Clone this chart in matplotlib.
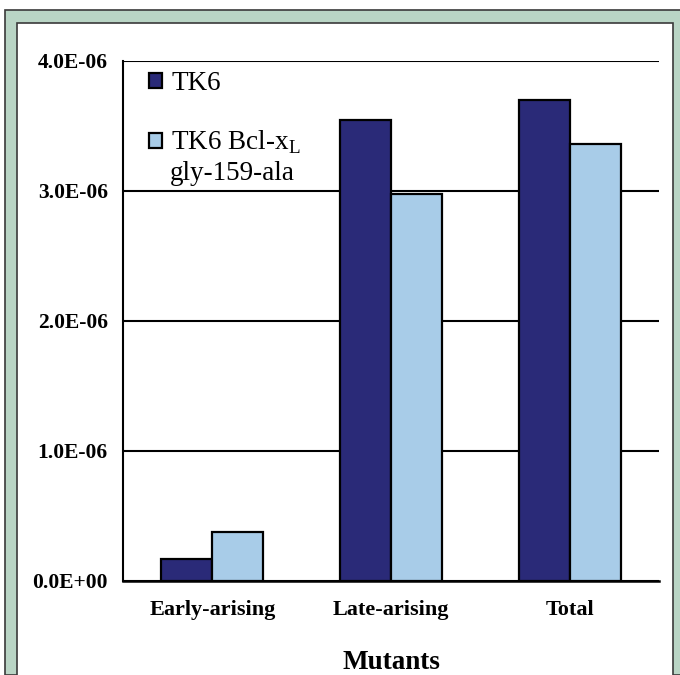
import numpy as np
import matplotlib.pyplot as plt
from matplotlib.patches import Rectangle

categories = ["Early-arising", "Late-arising", "Total"]
tk6 = [0.17e-6, 3.55e-6, 3.70e-6]
tk6_bcl = [0.38e-6, 2.98e-6, 3.36e-6]
yticks = [0.0, 1.0e-6, 2.0e-6, 3.0e-6, 4.0e-6]
ytick_labels = ["0.0E+00", "1.0E-06", "2.0E-06", "3.0E-06", "4.0E-06"]

dark = "#2a2a78"
light = "#a8cce8"
serif = "Liberation Serif"

fig = plt.figure(figsize=(6.8, 6.75), dpi=100)
fig.patch.set_facecolor("white")

# green frame round the panel
W, H = 680.0, 675.0
fig.patches.append(Rectangle((5 / W, 0), 1, 1 - 10 / H, transform=fig.transFigure,
                             facecolor="#b9d5c5", edgecolor="#3a3a3a", lw=1.2, zorder=-10))
fig.patches.append(Rectangle((17 / W, -0.01), (673 - 17) / W, 1 - 23 / H + 0.01,
                             transform=fig.transFigure, facecolor="white",
                             edgecolor="#3a3a3a", lw=1.2, zorder=-9))

ax = fig.add_axes([123 / W, 1 - 581 / H, (659 - 123) / W, (581 - 61) / H])
ax.set_facecolor("none")

x = np.arange(len(categories))
w = 0.285
b1 = ax.bar(x - w / 2, tk6, w, color=dark, edgecolor="black", lw=1.6, zorder=3, label="TK6")
b2 = ax.bar(x + w / 2, tk6_bcl, w, color=light, edgecolor="black", lw=1.6, zorder=3,
            label="TK6 Bcl-x$_\\mathregular{L}$")

ax.set_xlim(-0.5, 2.5)
ax.set_ylim(0, 4.0e-6)
ax.set_yticks(yticks)
ax.set_yticklabels(ytick_labels, fontfamily=serif, fontweight="bold", fontsize=15.5)
ax.set_xticks(x)
ax.set_xticklabels(categories, fontfamily=serif, fontweight="bold", fontsize=16)
ax.tick_params(axis="both", length=0)
ax.tick_params(axis="y", pad=11)
ax.tick_params(axis="x", pad=14)
ax.yaxis.grid(True, color="black", lw=1.5, zorder=1)
ax.set_axisbelow(True)
for s in ["top", "right"]:
    ax.spines[s].set_visible(False)
ax.spines["left"].set_linewidth(1.5)
ax.spines["bottom"].set_linewidth(1.8)
ax.spines["bottom"].set_zorder(4)

ax.set_xlabel("Mutants", fontfamily=serif, fontweight="bold", fontsize=19.5, labelpad=21)

leg = ax.legend(loc="upper left", bbox_to_anchor=(0.024, 1.006), frameon=False,
                prop={"family": serif, "size": 19.5}, handlelength=0.45, handleheight=0.45,
                handletextpad=0.35, borderpad=0, labelspacing=1.2)
ax.text(0.0877, 0.7845, "gly-159-ala", transform=ax.transAxes, fontfamily=serif,
        fontsize=19.5, va="center", ha="left")

fig.savefig("out.png", dpi=100)
